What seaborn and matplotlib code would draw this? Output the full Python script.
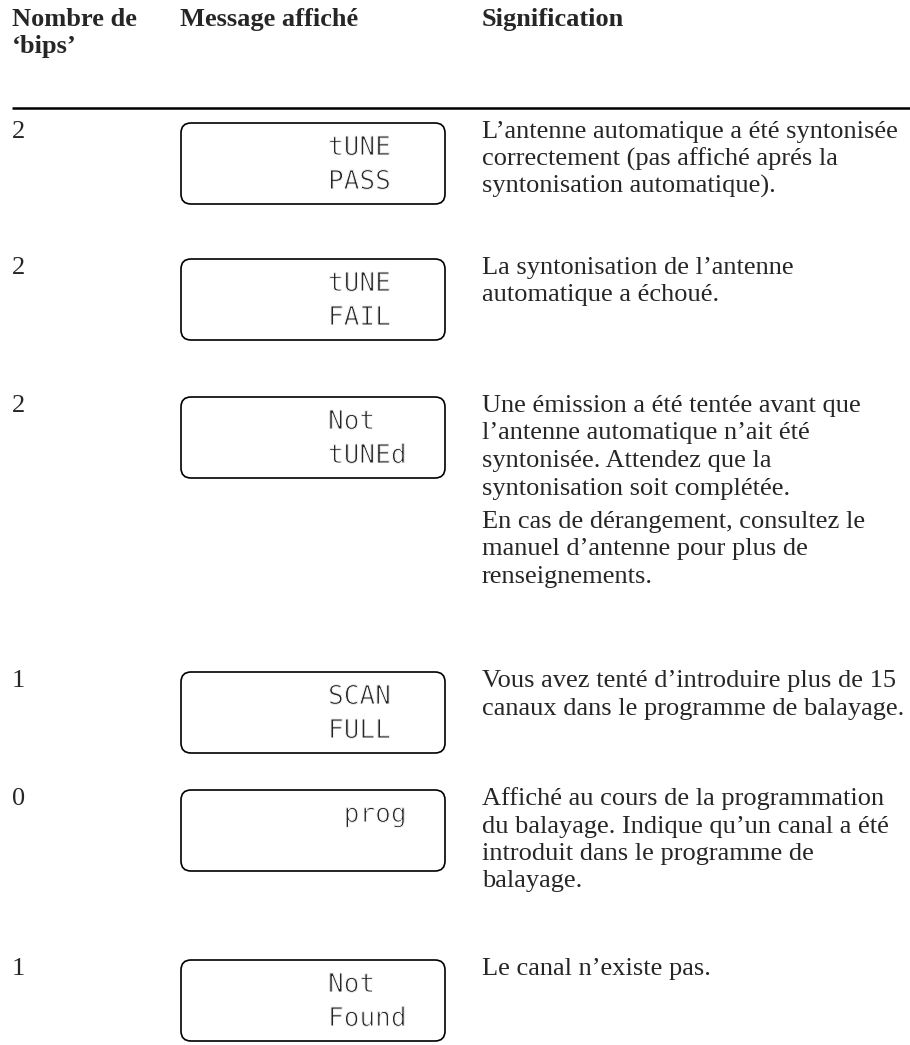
import matplotlib
matplotlib.use("Agg")
import matplotlib.pyplot as plt
import matplotlib.patheffects as pe
from matplotlib.patches import FancyBboxPatch
import seaborn as sns

# table content
headers = ["Nombre de\n\u2018bips\u2019", "Message affiché", "Signification"]
bips = ["2", "2", "2", "1", "0", "1"]
lcd_top = ["tUNE", "tUNE", "Not", "SCAN", " prog", "Not"]
lcd_bottom = ["PASS", "FAIL", "tUNEd", "FULL", "", "Found"]
meanings = [
    [["L\u2019antenne automatique a été syntonisée",
      "correctement (pas affiché aprés la",
      "syntonisation automatique)."]],
    [["La syntonisation de l\u2019antenne",
      "automatique a échoué."]],
    [["Une émission a été tentée avant que",
      "l\u2019antenne automatique n\u2019ait été",
      "syntonisée. Attendez que la",
      "syntonisation soit complétée."],
     ["En cas de dérangement, consultez le",
      "manuel d\u2019antenne pour plus de",
      "renseignements."]],
    [["Vous avez tenté d\u2019introduire plus de 15",
      "canaux dans le programme de balayage."]],
    [["Affiché au cours de la programmation",
      "du balayage. Indique qu\u2019un canal a été",
      "introduit dans le programme de",
      "balayage."]],
    [["Le canal n\u2019existe pas."]],
]

# layout (pixels)
W, H = 910, 1045
row_tops = [123, 259, 397, 672, 790, 960]
col_x = [12, 180, 482]
box_w, box_h = 264, 81
line_h = 27.5
para_gap = 6

sns.set_theme(style="white")
plt.rcParams['font.family'] = ['Liberation Serif', 'DejaVu Serif']

fig = plt.figure(figsize=(W / 100, H / 100), dpi=100)
ax = fig.add_axes([0, 0, 1, 1])
ax.set_xlim(0, W)
ax.set_ylim(H, 0)
ax.axis('off')

fs = 19

# header
head_lines = headers[0].split("\n")
for i, t in enumerate(head_lines):
    ax.text(col_x[0], 26 + i * 27, t, fontsize=fs, fontweight='bold', va='baseline')
ax.text(col_x[1], 26, headers[1], fontsize=fs, fontweight='bold', va='baseline')
ax.text(col_x[2], 26, headers[2], fontsize=fs, fontweight='bold', va='baseline')
ax.plot([col_x[0], W], [108, 108], color='black', lw=1.8, solid_capstyle='butt')

thin = [pe.Normal(), pe.Stroke(linewidth=0.7, foreground='white')]

for i, top in enumerate(row_tops):
    base = top + 15
    ax.text(col_x[0], base, bips[i], fontsize=fs, va='baseline')

    box = FancyBboxPatch((col_x[1] + 1, top), box_w, box_h,
                         boxstyle="round,pad=0,rounding_size=10",
                         fc='white', ec='black', lw=1.2)
    ax.add_patch(box)
    for j, t in enumerate([lcd_top[i], lcd_bottom[i]]):
        if t:
            ax.text(328, top + 32 + j * 34, t, fontsize=18.8,
                    family='DejaVu Sans Mono', va='baseline',
                    path_effects=thin)

    y = base
    for k, para in enumerate(meanings[i]):
        if k > 0:
            y += para_gap
        for line in para:
            ax.text(col_x[2], y, line, fontsize=fs, va='baseline')
            y += line_h

fig.savefig("out.png", dpi=100)
